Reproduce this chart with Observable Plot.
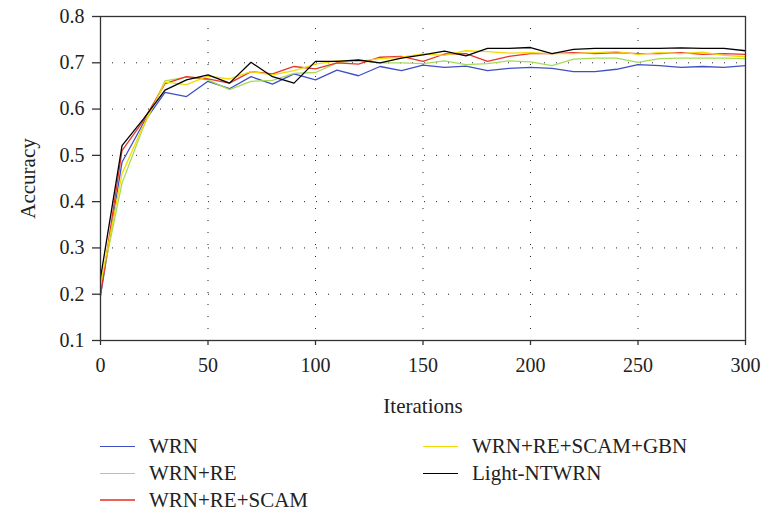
<!DOCTYPE html>
<html>
<head>
<meta charset="utf-8">
<script src="https://cdn.jsdelivr.net/npm/d3@7"></script>
<script src="https://cdn.jsdelivr.net/npm/@observablehq/plot@0.6"></script>
<style>
  html, body { margin: 0; padding: 0; background: #fff; }
  #wrap { position: relative; width: 764px; height: 515px; font-family: "Liberation Serif", "DejaVu Serif", serif; }
  .lg { position: absolute; display: flex; align-items: center; height: 26px; font-size: 21px; color: #222; white-space: nowrap; }
  .lg .sw { width: 35px; margin-right: 14px; }
  #chart svg g[aria-label="x-axis label"] text, #chart svg g[aria-label="y-axis label"] text { font-size: 21px; }
</style>
</head>
<body>
<div id="wrap"><div id="chart"></div></div>
<script>
const iterations = [0,10,20,30,40,50,60,70,80,90,100,110,120,130,140,150,160,170,180,190,200,210,220,230,240,250,260,270,280,290,300];

const wrn = [0.197,0.485,0.570,0.636,0.627,0.660,0.644,0.670,0.654,0.676,0.663,0.684,0.672,0.692,0.683,0.695,0.690,0.693,0.683,0.688,0.690,0.688,0.681,0.681,0.686,0.696,0.694,0.690,0.692,0.690,0.694];
const wrnRe = [0.215,0.440,0.562,0.661,0.669,0.663,0.642,0.660,0.662,0.677,0.679,0.700,0.705,0.700,0.700,0.698,0.704,0.696,0.698,0.704,0.702,0.694,0.708,0.710,0.710,0.701,0.709,0.710,0.710,0.710,0.709];
const wrnReScam = [0.198,0.510,0.575,0.655,0.670,0.665,0.656,0.681,0.676,0.692,0.687,0.700,0.697,0.712,0.714,0.703,0.719,0.720,0.703,0.714,0.720,0.720,0.722,0.720,0.722,0.720,0.720,0.722,0.718,0.720,0.718];
const wrnReScamGbn = [0.220,0.460,0.565,0.658,0.653,0.671,0.665,0.681,0.674,0.683,0.697,0.704,0.703,0.709,0.712,0.719,0.716,0.726,0.724,0.721,0.722,0.720,0.720,0.722,0.724,0.718,0.722,0.720,0.723,0.716,0.713];
const lightNtwrn = [0.235,0.521,0.579,0.641,0.663,0.674,0.656,0.701,0.670,0.656,0.703,0.703,0.706,0.700,0.710,0.717,0.725,0.715,0.731,0.731,0.733,0.720,0.729,0.731,0.731,0.731,0.731,0.732,0.731,0.731,0.726];

const seriesNames = ["WRN", "WRN+RE", "WRN+RE+SCAM", "WRN+RE+SCAM+GBN", "Light-NTWRN"];
const seriesValues = [wrn, wrnRe, wrnReScam, wrnReScamGbn, lightNtwrn];
const seriesColors = ["#3f4fc6", "#a6dc55", "#e8342a", "#f2dc00", "#000000"];
const legendColors = ["#3f4fc6", "#a6dc55", "#e8645a", "#f2dc00", "#000000"];

const xTicks = [0, 50, 100, 150, 200, 250, 300];
const yTicks = [0.1, 0.2, 0.3, 0.4, 0.5, 0.6, 0.7, 0.8];

const data = [];
seriesNames.forEach((name, s) => {
  iterations.forEach((it, i) => data.push({series: name, iter: it, acc: seriesValues[s][i]}));
});

const chart = Plot.plot({
  width: 764,
  height: 425,
  marginLeft: 100,
  marginRight: 19,
  marginTop: 16,
  marginBottom: 85,
  style: {fontFamily: "'Liberation Serif', 'DejaVu Serif', serif", fontSize: "20px", color: "#222", background: "#fff"},
  x: {domain: [0, 300]},
  y: {domain: [0.1, 0.8]},
  color: {domain: seriesNames, range: seriesColors},
  marks: [
    Plot.gridX(xTicks.slice(1, -1), {stroke: "#222", strokeOpacity: 1, strokeWidth: 1, strokeDasharray: "1,11"}),
    Plot.gridY(yTicks.slice(1, -1), {stroke: "#222", strokeOpacity: 1, strokeWidth: 1, strokeDasharray: "1,11"}),
    Plot.line(data, {x: "iter", y: "acc", z: "series", stroke: "series", strokeWidth: 1.3}),
    Plot.frame({stroke: "#333", strokeWidth: 1.3}),
    Plot.axisY(yTicks, {tickSize: 8, tickPadding: 8, tickFormat: d3.format(".1f"), stroke: "#333", strokeWidth: 1.3,
      label: "Accuracy", labelAnchor: "center", labelArrow: "none", labelOffset: 80, ariaLabel: "y-axis"}),
    Plot.axisX(xTicks, {tickSize: 5, tickPadding: 12, stroke: "#333", strokeWidth: 1.3,
      label: "Iterations", labelAnchor: "center", labelArrow: "none", labelOffset: 72, ariaLabel: "x-axis"})
  ]
});
document.getElementById("chart").appendChild(chart);

// legend below the plot
const legendPos = [
  {left: 100, top: 446}, {left: 100, top: 473}, {left: 100, top: 500},
  {left: 423, top: 446}, {left: 423, top: 473}
];
const wrap = document.getElementById("wrap");
seriesNames.forEach((name, i) => {
  const item = document.createElement("div");
  item.className = "lg";
  item.style.left = legendPos[i].left + "px";
  item.style.top = (legendPos[i].top - 13) + "px";
  const sw = document.createElement("div");
  sw.className = "sw";
  sw.style.borderTop = (i === 2 ? 2.5 : 1.5) + "px solid " + legendColors[i];
  const tx = document.createElement("span");
  tx.textContent = name;
  item.appendChild(sw);
  item.appendChild(tx);
  wrap.appendChild(item);
});
</script>
</body>
</html>
